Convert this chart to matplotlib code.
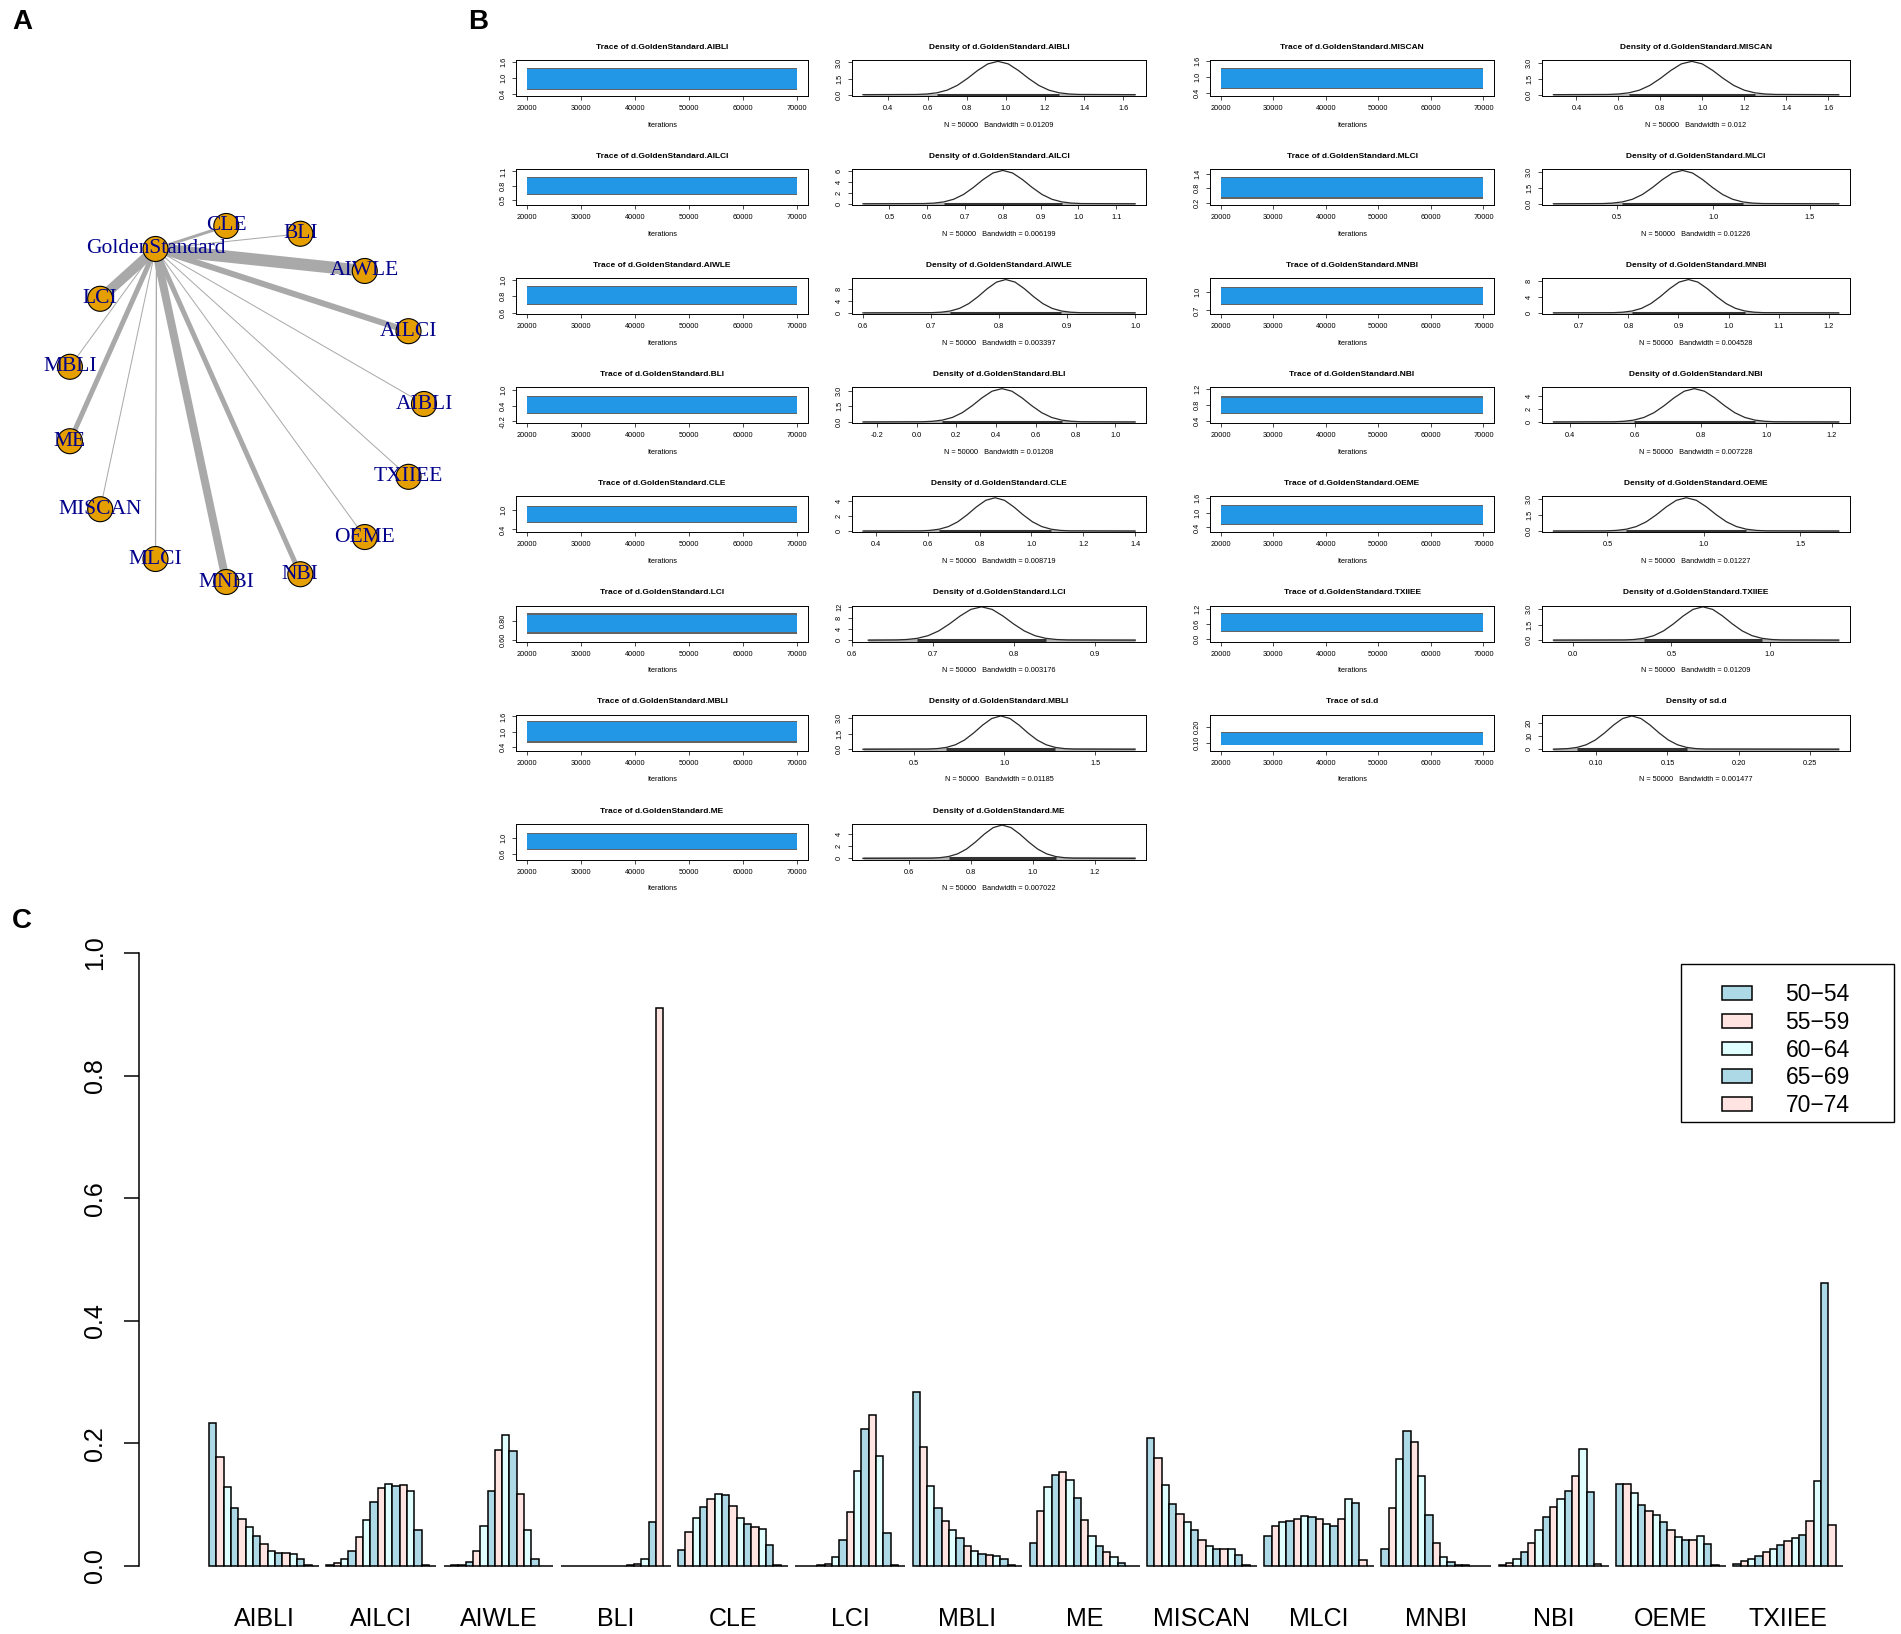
import numpy as np
import matplotlib
matplotlib.use("Agg")
import matplotlib.pyplot as plt
from matplotlib.patches import Circle, Rectangle, Patch

W, H = 1901, 1634
plt.rcParams['font.family'] = ['Liberation Sans', 'DejaVu Sans']

# ---------------- panel A : network ----------------
nodes = ["AIBLI", "AILCI", "AIWLE", "BLI", "CLE", "GoldenStandard", "LCI", "MBLI",
         "ME", "MISCAN", "MLCI", "MNBI", "NBI", "OEME", "TXIIEE"]
edge_to = ["AIBLI", "AILCI", "AIWLE", "BLI", "CLE", "LCI", "MBLI", "ME",
           "MISCAN", "MLCI", "MNBI", "NBI", "OEME", "TXIIEE"]
edge_width = [1.0, 6.0, 12.0, 1.0, 3.0, 10.0, 1.0, 5.0, 1.0, 1.3, 8.0, 5.0, 1.0, 1.0]

# ---------------- panel B : MCMC diagnostics ----------------
params = ["d.GoldenStandard.AIBLI", "d.GoldenStandard.AILCI", "d.GoldenStandard.AIWLE",
          "d.GoldenStandard.BLI", "d.GoldenStandard.CLE", "d.GoldenStandard.LCI",
          "d.GoldenStandard.MBLI", "d.GoldenStandard.ME", "d.GoldenStandard.MISCAN",
          "d.GoldenStandard.MLCI", "d.GoldenStandard.MNBI", "d.GoldenStandard.NBI",
          "d.GoldenStandard.OEME", "d.GoldenStandard.TXIIEE", "sd.d"]
iter_start, iter_end = 20000, 70000
band_lo = [0.60, 0.63, 0.71, 0.12, 0.62, 0.68, 0.62, 0.72, 0.60, 0.42, 0.80, 0.60, 0.55, 0.32, 0.09]
band_hi = [1.32, 0.97, 0.91, 0.74, 1.10, 0.86, 1.38, 1.08, 1.30, 1.22, 1.06, 0.98, 1.28, 1.02, 0.165]
trace_min = [0.38, 0.43, 0.60, -0.22, 0.35, 0.60, 0.30, 0.50, 0.35, 0.15, 0.66, 0.38, 0.25, -0.05, 0.06]
trace_max = [1.62, 1.12, 1.00, 1.05, 1.38, 0.94, 1.62, 1.30, 1.60, 1.55, 1.20, 1.20, 1.62, 1.30, 0.27]
trace_yt = [["0.4", "1.0", "1.6"], ["0.5", "0.8", "1.1"], ["0.6", "0.8", "1.0"],
            ["-0.2", "0.4", "1.0"], ["0.4", "1.0"], ["0.60", "0.80"],
            ["0.4", "1.0", "1.6"], ["0.6", "1.0"], ["0.4", "1.0", "1.6"],
            ["0.2", "0.8", "1.4"], ["0.7", "1.0"], ["0.4", "0.8", "1.2"],
            ["0.4", "1.0", "1.6"], ["0.0", "0.6", "1.2"], ["0.10", "0.20"]]
dens_mu = [0.96, 0.80, 0.81, 0.43, 0.86, 0.76, 0.98, 0.90, 0.95, 0.84, 0.92, 0.78, 0.91, 0.66, 0.125]
dens_sd = [0.13, 0.065, 0.034, 0.125, 0.09, 0.033, 0.125, 0.072, 0.125, 0.13, 0.047, 0.077, 0.13, 0.125, 0.016]
dens_peak = [3.1, 6.1, 11.0, 3.2, 4.4, 12.0, 3.2, 5.5, 3.15, 3.15, 8.4, 5.2, 3.1, 3.2, 25.0]
rug_lo = [0.27, 0.43, 0.60, -0.27, 0.35, 0.62, 0.22, 0.45, 0.29, 0.17, 0.65, 0.35, 0.22, -0.10, 0.07]
rug_hi = [1.66, 1.15, 1.00, 1.10, 1.40, 0.95, 1.72, 1.33, 1.65, 1.65, 1.22, 1.22, 1.70, 1.35, 0.27]
dens_xt = [["0.4", "0.6", "0.8", "1.0", "1.2", "1.4", "1.6"],
           ["0.5", "0.6", "0.7", "0.8", "0.9", "1.0", "1.1"],
           ["0.6", "0.7", "0.8", "0.9", "1.0"],
           ["-0.2", "0.0", "0.2", "0.4", "0.6", "0.8", "1.0"],
           ["0.4", "0.6", "0.8", "1.0", "1.2", "1.4"],
           ["0.6", "0.7", "0.8", "0.9"],
           ["0.5", "1.0", "1.5"],
           ["0.6", "0.8", "1.0", "1.2"],
           ["0.4", "0.6", "0.8", "1.0", "1.2", "1.4", "1.6"],
           ["0.5", "1.0", "1.5"],
           ["0.7", "0.8", "0.9", "1.0", "1.1", "1.2"],
           ["0.4", "0.6", "0.8", "1.0", "1.2"],
           ["0.5", "1.0", "1.5"],
           ["0.0", "0.5", "1.0"],
           ["0.10", "0.15", "0.20", "0.25"]]
dens_yt = [["0.0", "1.5", "3.0"], ["0", "2", "4", "6"], ["0", "4", "8"], ["0.0", "1.5", "3.0"],
           ["0", "2", "4"], ["0", "4", "8", "12"], ["0.0", "1.5", "3.0"], ["0", "2", "4"],
           ["0.0", "1.5", "3.0"], ["0.0", "1.5", "3.0"], ["0", "4", "8"], ["0", "2", "4"],
           ["0.0", "1.5", "3.0"], ["0.0", "1.5", "3.0"], ["0", "10", "20"]]
bandwidth = ["0.01209", "0.006199", "0.003397", "0.01208", "0.008719", "0.003176", "0.01185",
             "0.007022", "0.012", "0.01226", "0.004528", "0.007228", "0.01227", "0.01209", "0.001477"]
# bell shape (offset in sd units, height relative to peak)
shape_z = [-3.2, -2.8, -2.4, -2.0, -1.6, -1.2, -0.8, -0.4, 0.0, 0.4, 0.8, 1.2, 1.6, 2.0, 2.4, 2.8, 3.2]
shape_f = [0.006, 0.020, 0.056, 0.135, 0.278, 0.487, 0.726, 0.923, 1.0,
           0.923, 0.726, 0.487, 0.278, 0.135, 0.056, 0.020, 0.006]

# ---------------- panel C : grouped bars ----------------
methods = ["AIBLI", "AILCI", "AIWLE", "BLI", "CLE", "LCI", "MBLI", "ME",
           "MISCAN", "MLCI", "MNBI", "NBI", "OEME", "TXIIEE"]
age_labels = ["50\u221254", "55\u221259", "60\u221264", "65\u221269", "70\u221274"]
props = [
    [0.234, 0.178, 0.129, 0.094, 0.076, 0.063, 0.049, 0.036, 0.025, 0.021, 0.021, 0.020, 0.012, 0.002, 0.0],
    [0.002, 0.005, 0.012, 0.025, 0.048, 0.075, 0.104, 0.127, 0.133, 0.131, 0.132, 0.123, 0.058, 0.001, 0.0],
    [0.0, 0.001, 0.002, 0.006, 0.025, 0.065, 0.123, 0.190, 0.213, 0.187, 0.117, 0.059, 0.012, 0.0, 0.0],
    [0.0, 0.0, 0.0, 0.0, 0.0, 0.0, 0.0, 0.0, 0.0, 0.001, 0.003, 0.011, 0.072, 0.910, 0.0],
    [0.026, 0.056, 0.079, 0.096, 0.109, 0.118, 0.116, 0.098, 0.079, 0.069, 0.064, 0.061, 0.034, 0.001, 0.0],
    [0.0, 0.0, 0.0005, 0.002, 0.004, 0.015, 0.042, 0.088, 0.155, 0.223, 0.247, 0.180, 0.053, 0.001, 0.0],
    [0.284, 0.194, 0.130, 0.095, 0.073, 0.058, 0.046, 0.033, 0.024, 0.020, 0.018, 0.017, 0.011, 0.001, 0.0],
    [0.038, 0.089, 0.129, 0.148, 0.153, 0.140, 0.111, 0.075, 0.049, 0.033, 0.023, 0.014, 0.005, 0.0005, 0.0],
    [0.208, 0.176, 0.132, 0.101, 0.085, 0.072, 0.058, 0.043, 0.033, 0.028, 0.028, 0.028, 0.018, 0.001, 0.0],
    [0.049, 0.066, 0.072, 0.074, 0.077, 0.081, 0.080, 0.076, 0.069, 0.065, 0.077, 0.110, 0.103, 0.010, 0.0],
    [0.027, 0.094, 0.175, 0.220, 0.203, 0.147, 0.083, 0.038, 0.015, 0.006, 0.002, 0.001, 0.0, 0.0, 0.0],
    [0.002, 0.005, 0.011, 0.023, 0.037, 0.058, 0.080, 0.097, 0.109, 0.122, 0.147, 0.191, 0.121, 0.004, 0.0],
    [0.134, 0.134, 0.119, 0.100, 0.089, 0.083, 0.071, 0.058, 0.047, 0.042, 0.042, 0.049, 0.036, 0.002, 0.0],
    [0.003, 0.008, 0.012, 0.017, 0.022, 0.028, 0.034, 0.041, 0.046, 0.051, 0.074, 0.138, 0.462, 0.067, 0.0],
]
bar_cols = ["#ADD8E6", "#FFE4E1", "#E0FFFF"]


fig = plt.figure(figsize=(W / 100, H / 100), dpi=100)
fig.patch.set_facecolor("white")


def px_axes(x0, x1, y0, y1):
    return fig.add_axes([x0 / W, 1 - y1 / H, (x1 - x0) / W, (y1 - y0) / H])


# ---- A
cx, cy, rad = 245, 404, 179
ax_a = px_axes(0, 480, 120, 690)
ax_a.set_xlim((0 - cx) / rad, (480 - cx) / rad)
ax_a.set_ylim((cy - 690) / rad, (cy - 120) / rad)
ax_a.axis("off")
pos = {}
for i, n in enumerate(nodes):
    a = 2 * np.pi * i / len(nodes)
    pos[n] = (np.cos(a), np.sin(a))
gx, gy = pos["GoldenStandard"]
for t, w in zip(edge_to, edge_width):
    tx, ty = pos[t]
    ax_a.plot([gx, tx], [gy, ty], color="#A9A9A9", lw=w * 0.72, solid_capstyle="butt", zorder=1)
for n in nodes:
    x, y = pos[n]
    ax_a.add_patch(Circle((x, y), 12.5 / rad, facecolor="#E69F00", edgecolor="black", lw=0.8, zorder=2))
    ax_a.text(x, y, n, fontsize=15.5, family="Liberation Serif", color="#00008B",
              ha="center", va="center", zorder=3)

# ---- B
col_px = [(516, 808), (852, 1146), (1210, 1494), (1542, 1850)]
for k, name in enumerate(params):
    row = k if k < 8 else k - 8
    c0 = 0 if k < 8 else 2
    top = 60 + 109.1 * row
    bot = top + 36

    # trace
    ax = px_axes(col_px[c0][0], col_px[c0][1], top, bot)
    lo, hi = band_lo[k], band_hi[k]
    ax.fill_between([iter_start, iter_end], lo - 0.07 * (hi - lo), hi + 0.07 * (hi - lo),
                    color="#303030", alpha=0.75, lw=0)
    ax.fill_between([iter_start, iter_end], lo, hi, color="#2297E6", lw=0)
    ax.set_xlim(iter_start - 0.04 * (iter_end - iter_start), iter_end + 0.04 * (iter_end - iter_start))
    r = trace_max[k] - trace_min[k]
    ax.set_ylim(trace_min[k] - 0.04 * r, trace_max[k] + 0.04 * r)
    ax.set_xticks(range(20000, 70001, 10000))
    ax.set_xticklabels([str(v) for v in range(20000, 70001, 10000)])
    ax.set_yticks([float(s) for s in trace_yt[k]])
    ax.set_yticklabels(trace_yt[k], rotation=90, va="center")
    ax.tick_params(labelsize=5.3, length=3, width=0.5, pad=3.5)
    ax.set_title("Trace of " + name, fontsize=6, fontweight="bold", pad=8)
    ax.set_xlabel("Iterations", fontsize=5.3, labelpad=7)
    for s in ax.spines.values():
        s.set_linewidth(0.7)

    # density
    ax = px_axes(col_px[c0 + 1][0], col_px[c0 + 1][1], top, bot)
    mu, sd, pk = dens_mu[k], dens_sd[k], dens_peak[k]
    xs = [rug_lo[k]] + [mu + z * sd for z in shape_z] + [rug_hi[k]]
    ys = [0.0] + [pk * f for f in shape_f] + [0.0]
    ax.plot([rug_lo[k], rug_hi[k]], [0, 0], color="#B5B5B5", lw=2.2, solid_capstyle="butt")
    ax.plot([mu - 2.4 * sd, mu + 2.4 * sd], [0, 0], color="#333333", lw=2.2, solid_capstyle="butt")
    ax.plot(xs, ys, color="#2a2a2a", lw=0.9)
    r = rug_hi[k] - rug_lo[k]
    ax.set_xlim(rug_lo[k] - 0.04 * r, rug_hi[k] + 0.04 * r)
    ax.set_ylim(-0.04 * pk, 1.04 * pk)
    ax.set_xticks([float(s) for s in dens_xt[k]])
    ax.set_xticklabels(dens_xt[k])
    ax.set_yticks([float(s) for s in dens_yt[k]])
    ax.set_yticklabels(dens_yt[k], rotation=90, va="center")
    ax.tick_params(labelsize=5.3, length=3, width=0.5, pad=3.5)
    ax.set_title("Density of " + name, fontsize=6, fontweight="bold", pad=8)
    ax.set_xlabel("N = 50000   Bandwidth = " + bandwidth[k], fontsize=5.3, labelpad=7)
    for s in ax.spines.values():
        s.set_linewidth(0.7)

# ---- C
ax_c = px_axes(139, 1901, 928.5, 1590.5)
n_age = len(props[0])
xpos, hts, cols = [], [], []
for g, vals in enumerate(props):
    for i, v in enumerate(vals):
        xpos.append(1 + 16 * g + i + 0.5)
        hts.append(v)
        cols.append(bar_cols[i % 3])
ax_c.bar(xpos, hts, width=1.0, color=cols, edgecolor="black", linewidth=1.1)
ax_c.set_xlim(-8.56, 231.9)
ax_c.set_ylim(-0.04, 1.04)
for s in ["top", "right", "bottom"]:
    ax_c.spines[s].set_visible(False)
ax_c.spines["left"].set_bounds(0, 1)
ax_c.spines["left"].set_linewidth(1.1)
ax_c.set_xticks([1 + 16 * g + n_age / 2 for g in range(len(methods))])
ax_c.set_xticklabels(methods)
ax_c.tick_params(axis="x", length=0, labelsize=18, pad=12)
yt = [0.0, 0.2, 0.4, 0.6, 0.8, 1.0]
ax_c.set_yticks(yt)
ax_c.set_yticklabels(["%.1f" % v for v in yt], rotation=90, va="center")
ax_c.tick_params(axis="y", length=10.8, width=1.1, labelsize=18, pad=12)

handles = [Patch(facecolor=bar_cols[i % 3], edgecolor="black", linewidth=1.1) for i in range(len(age_labels))]
ax_c.legend(handles, age_labels, loc="upper left", bbox_to_anchor=(1711 / W, 1 - 972 / H),
            bbox_transform=fig.transFigure, frameon=False, borderpad=0, fontsize=16.5,
            handlelength=1.3, handleheight=0.55, handletextpad=1.45, labelspacing=0.2)
fig.add_artist(Rectangle((1681 / W, 1 - 1122 / H), (1894 - 1681) / W, (1122 - 964) / H,
                         transform=fig.transFigure, fill=False, edgecolor="black", lw=1.0))

# panel letters
fig.text(12 / W, 1 - 22 / H, "A", fontsize=20, fontweight="bold", va="center", ha="left")
fig.text(468 / W, 1 - 22 / H, "B", fontsize=20, fontweight="bold", va="center", ha="left")
fig.text(12 / W, 1 - 921 / H, "C", fontsize=20, fontweight="bold", va="center", ha="left")

fig.savefig("out.png", dpi=100)
